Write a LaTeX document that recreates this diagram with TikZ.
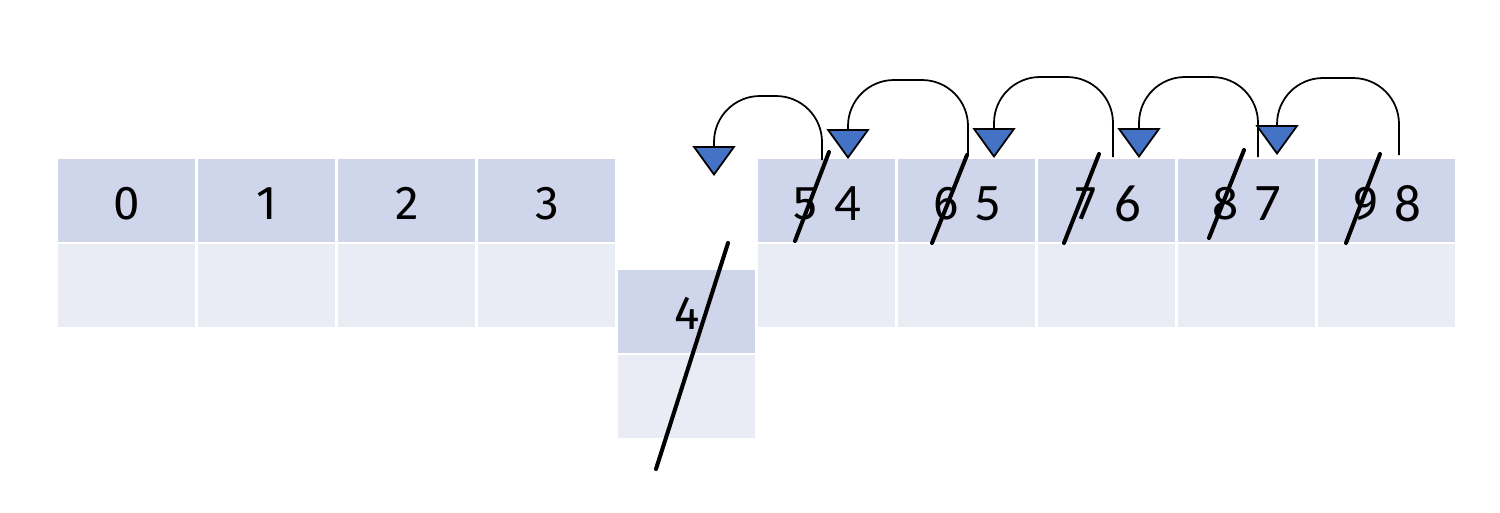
\documentclass[tikz,border=0pt]{standalone}
\usepackage{fontspec}
\setmainfont{Carlito}
\newfontfamily\dinfont{Fira Sans}
\usetikzlibrary{arrows.meta}
\definecolor{cellhead}{HTML}{CFD5EA}
\definecolor{cellbody}{HTML}{E9EBF5}
\definecolor{tipblue}{HTML}{4472C4}
\tikzset{
  headcell/.style={fill=cellhead, draw=none, minimum width=2.74cm, minimum height=1.66cm, inner sep=0pt, anchor=north west},
  bodycell/.style={fill=cellbody, draw=none, minimum width=2.74cm, minimum height=1.66cm, inner sep=0pt, anchor=north west},
  olddigit/.style={font=\dinfont\fontsize{27}{30}\selectfont, inner sep=0pt},
  newdigit/.style={font=\fontsize{30}{32}\selectfont, inner sep=0pt},
  strike/.style={line width=2.3pt, line cap=round},
  shiftarc/.style={line width=1pt, -{Triangle[width=0.86cm, length=0.6cm, fill=tipblue]}}
}
\begin{document}
\begin{tikzpicture}[x=0.02cm, y=-0.02cm]
\useasboundingbox (0,0) rectangle (1500,512);
% left cells
\foreach \i/\x in {0/58,1/198,2/338,3/478}{
  \node[headcell] (h\i) at (\x,159) {};
  \node[bodycell] (b\i) at (\x,244) {};
  \node[olddigit] (d\i) at ([yshift=-0.06cm]h\i.center) {\i};
}
% moved cell
\node[headcell] (hm) at (618,270) {};
\node[bodycell] (bm) at (618,355) {};
\node[olddigit] (dm) at ([yshift=-0.04cm]hm.center) {4};
% right cells
\foreach \j/\x/\o/\n in {5/758/5/4,6/898/6/5,7/1038/7/6,8/1178/8/7,9/1318/9/8}{
  \node[headcell] (h\j) at (\x,159) {};
  \node[bodycell] (b\j) at (\x,244) {};
  \node[olddigit] (o\j) at ([xshift=-0.42cm,yshift=-0.06cm]h\j.center) {\o};
  \node[newdigit] (n\j) at ([xshift=0.42cm,yshift=-0.06cm]h\j.center) {\n};
}
% strike-through lines
\coordinate (ma) at (728,243); \coordinate (mb) at (656,469);
\draw[strike] (ma) -- (mb);
\coordinate (s5a) at (829,152); \coordinate (s5b) at (795,241);
\draw[strike] (s5a) -- (s5b);
\coordinate (s6a) at (967,155); \coordinate (s6b) at (932,243);
\draw[strike] (s6a) -- (s6b);
\coordinate (s7a) at (1099,154); \coordinate (s7b) at (1064,243);
\draw[strike] (s7a) -- (s7b);
\coordinate (s8a) at (1244,150); \coordinate (s8b) at (1209,238);
\draw[strike] (s8a) -- (s8b);
\coordinate (s9a) at (1380,154); \coordinate (s9b) at (1346,243);
\draw[strike] (s9a) -- (s9b);
% shift arcs (r = 46px = 0.92cm)
\coordinate (a1s) at (822,160); \coordinate (a1t) at (714,176);
\draw[shiftarc] (a1s) -- (822,142) arc[start angle=0, end angle=90, radius=0.92cm] -- (760,96) arc[start angle=90, end angle=180, radius=0.92cm] -- (a1t);
\coordinate (a2s) at (968,156); \coordinate (a2t) at (848,159);
\draw[shiftarc] (a2s) -- (968,126) arc[start angle=0, end angle=90, radius=0.92cm] -- (894,80) arc[start angle=90, end angle=180, radius=0.92cm] -- (a2t);
\coordinate (a3s) at (1113,157); \coordinate (a3t) at (994,158);
\draw[shiftarc] (a3s) -- (1113,123) arc[start angle=0, end angle=90, radius=0.92cm] -- (1040,77) arc[start angle=90, end angle=180, radius=0.92cm] -- (a3t);
\coordinate (a4s) at (1258,157); \coordinate (a4t) at (1139,158);
\draw[shiftarc] (a4s) -- (1258,123) arc[start angle=0, end angle=90, radius=0.92cm] -- (1185,77) arc[start angle=90, end angle=180, radius=0.92cm] -- (a4t);
\coordinate (a5s) at (1399,155); \coordinate (a5t) at (1277,155);
\draw[shiftarc] (a5s) -- (1399,124) arc[start angle=0, end angle=90, radius=0.92cm] -- (1323,78) arc[start angle=90, end angle=180, radius=0.92cm] -- (a5t);
\end{tikzpicture}
\end{document}
